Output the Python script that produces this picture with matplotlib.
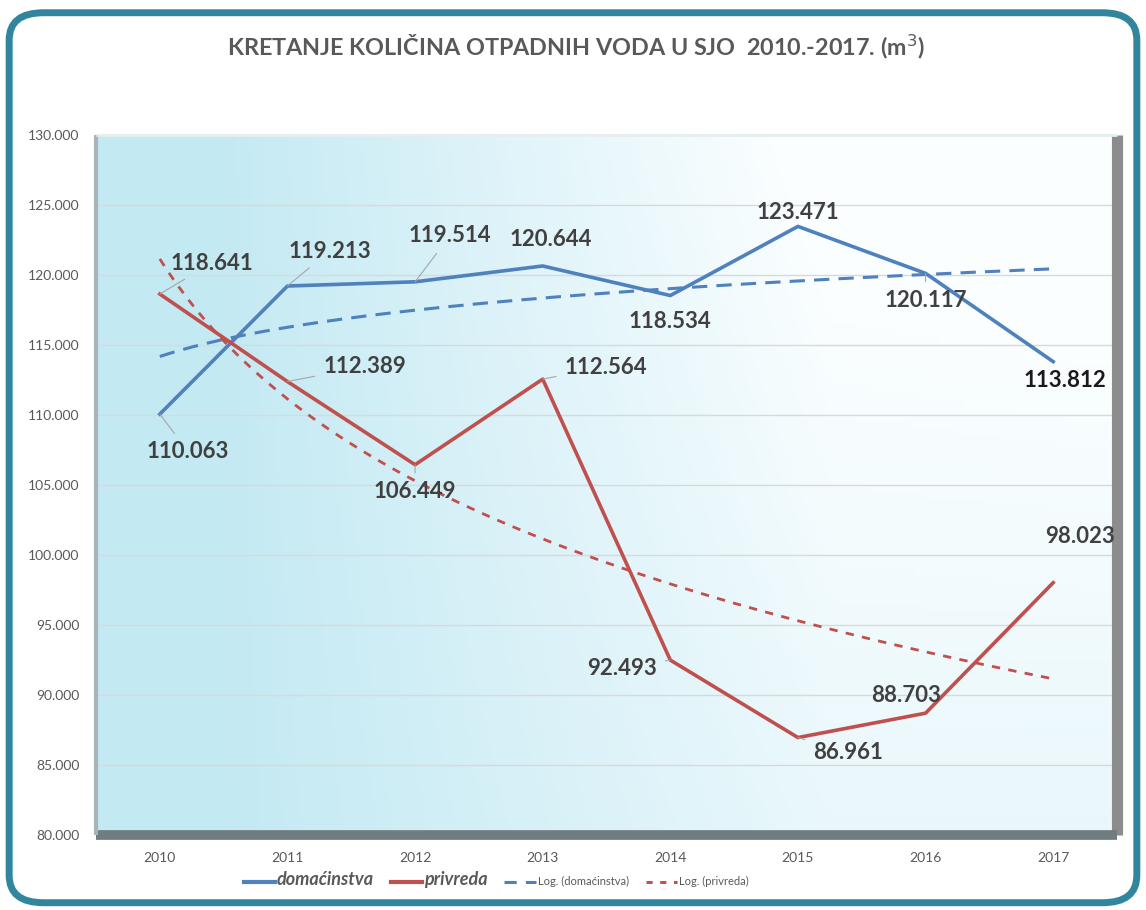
import numpy as np
import matplotlib.pyplot as plt
from matplotlib.patches import FancyBboxPatch
from matplotlib.lines import Line2D
from matplotlib.colors import to_rgb

# --- podaci ---
godine = ["2010", "2011", "2012", "2013", "2014", "2015", "2016", "2017"]
domacinstva = [110063, 119213, 119514, 120644, 118534, 123471, 120117, 113812]
privreda = [118641, 112389, 106449, 112564, 92493, 86961, 88703, 98023]

# pomaci oznaka (px) i da li ima vodeću liniju
pomaci_dom = [(28, -37, True), (42, 35, True), (35, 46, True), (8, 26, False),
              (0, -26, False), (0, 14, False), (0, -27, True), (12, -19, False)]
pomaci_priv = [(52, 31, True), (77, 15, True), (0, -27, True), (63, 12, True),
               (-48, -8, True), (50, -15, True), (-20, 18, False), (27, 46, False)]

PLAVA = "#4F81BD"
CRVENA = "#C0504D"
SIVA_TXT = "#404040"
FONT = ["Lato", "DejaVu Sans"]
plt.rcParams["font.family"] = FONT

fig = plt.figure(figsize=(11.46, 9.10), dpi=100)

# okvir oko cijele slike
okvir = FancyBboxPatch((0.008, 0.008), 0.984, 0.978, transform=fig.transFigure,
                       boxstyle="round,pad=0,rounding_size=0.03",
                       facecolor="white", edgecolor="#31859C", lw=5, zorder=-10)
fig.patches.append(okvir)

fig.text(0.503, 0.949, "KRETANJE KOLIČINA OTPADNIH VODA U SJO  2010.-2017. (m$^3$)",
         ha="center", va="center", fontsize=16.8, fontweight="bold", color="#595959")

ax = fig.add_axes([96 / 1146, 1 - 835 / 910, 1021 / 1146, 700 / 910])
x = np.arange(len(godine))
ax.set_xlim(-0.5, len(godine) - 0.5)
ax.set_ylim(80000, 130000)

# gradijent pozadine
nx_, ny_ = 300, 100
gx = np.linspace(0, 1, nx_)[None, :]
gy = np.linspace(0, 1, ny_)[:, None]
t = np.clip((gx - 0.12) / 0.6, 0, 1) * (0.7 + 0.3 * gy)
t = np.clip(t + 0.15 * gx * gy, 0, 1)
c0 = np.array(to_rgb("#C3E9F3"))
c1 = np.array(to_rgb("#FAFEFF"))
img = c0[None, None, :] * (1 - t[..., None]) + c1[None, None, :] * t[..., None]
ax.imshow(img, extent=[0, 1, 0, 1], transform=ax.transAxes, aspect="auto",
          origin="lower", zorder=0)

# "3D" rub plohe
rub = dict(transform=ax.transAxes, clip_on=False, solid_capstyle="butt", zorder=1)
ax.plot([1, 1], [0, 1], color="#8C8C8C", lw=8, **rub)
ax.plot([0, 1], [0, 0], color="#6F7C80", lw=7, **rub)
ax.plot([0, 0], [0, 1], color="#A9B4B8", lw=3, **rub)
ax.plot([0, 1], [1, 1], color="#E6EEF0", lw=2, **rub)

for s in ax.spines.values():
    s.set_visible(False)
ax.set_yticks(np.arange(80000, 130001, 5000))
ax.set_yticklabels([f"{v // 1000}.000" for v in range(80000, 130001, 5000)])
ax.set_xticks(x)
ax.set_xticklabels(godine)
ax.tick_params(length=0, labelsize=10, labelcolor="#595959", pad=12)
ax.grid(axis="y", color="#D9D9D9", lw=1, zorder=1)
ax.set_axisbelow(True)

# logaritamski trendovi
xl = x + 1
k_dom = np.polyfit(np.log(xl), domacinstva, 1)
k_priv = np.polyfit(np.log(xl), privreda, 1)
xs = np.linspace(1, len(godine), 200)
ax.plot(xs - 1, np.polyval(k_dom, np.log(xs)), color=PLAVA, lw=2.2, ls=(0, (5, 3)), zorder=3)
ax.plot(xs - 1, np.polyval(k_priv, np.log(xs)), color=CRVENA, lw=2.0, ls=(0, (3, 3)), zorder=3)

ax.plot(x, domacinstva, color=PLAVA, lw=2.6, zorder=4)
ax.plot(x, privreda, color=CRVENA, lw=2.6, zorder=4)

def oznake(vrijednosti, pomaci, boje=None):
    for i, (v, (dx, dy, linija)) in enumerate(zip(vrijednosti, pomaci)):
        txt = f"{v / 1000:.3f}"
        ap = dict(arrowstyle="-", color="#A6A6A6", lw=0.8, shrinkA=4, shrinkB=0) if linija else None
        ax.annotate(txt, (x[i], v), xytext=(dx, dy), textcoords="offset pixels",
                    ha="center", va="center", fontsize=16, fontweight="bold",
                    color=(boje[i] if boje else SIVA_TXT), arrowprops=ap, zorder=6)

boje_dom = [SIVA_TXT] * 7 + ["#1A1A1A"]
oznake(domacinstva, pomaci_dom, boje_dom)
oznake(privreda, pomaci_priv)

# legenda
rucke = [Line2D([], [], color=PLAVA, lw=3), Line2D([], [], color=CRVENA, lw=3),
         Line2D([], [], color=PLAVA, lw=2.2, ls=(0, (4, 3))),
         Line2D([], [], color=CRVENA, lw=2.2, ls=(0, (2, 2.5)))]
leg = fig.legend(rucke, ["domaćinstva", "privreda", "Log. (domaćinstva)", "Log. (privreda)"],
                 loc="center", bbox_to_anchor=(0.433, 0.033), ncol=4, frameon=False,
                 handlelength=2.8, handletextpad=0.2, columnspacing=1.5, fontsize=8)
for i, tx in enumerate(leg.get_texts()):
    tx.set_color("#595959")
    if i < 2:
        tx.set_fontsize(13)
        tx.set_fontweight("bold")
        tx.set_fontstyle("italic")

fig.savefig("out.png", dpi=100)
